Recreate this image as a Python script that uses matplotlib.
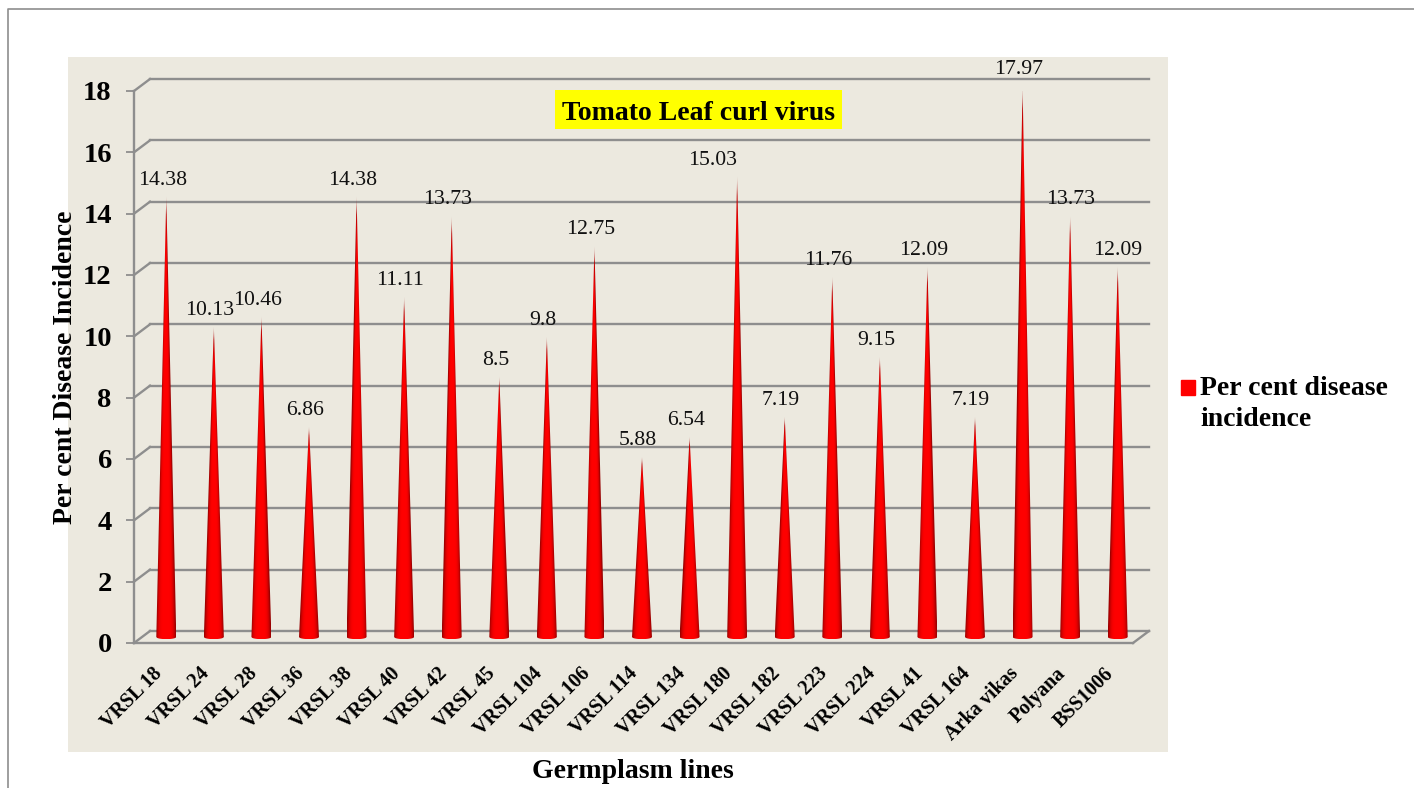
import numpy as np
import matplotlib
matplotlib.use("Agg")
import matplotlib.pyplot as plt
from matplotlib.lines import Line2D
from matplotlib.patches import Patch, Polygon, Rectangle
from matplotlib.transforms import Affine2D

lines = ["VRSL 18", "VRSL 24", "VRSL 28", "VRSL 36", "VRSL 38", "VRSL 40", "VRSL 42",
         "VRSL 45", "VRSL 104", "VRSL 106", "VRSL 114", "VRSL 134", "VRSL 180", "VRSL 182",
         "VRSL 223", "VRSL 224", "VRSL 41", "VRSL 164", "Arka vikas", "Polyana", "BSS1006"]
incidence = [14.38, 10.13, 10.46, 6.86, 14.38, 11.11, 13.73, 8.5, 9.8, 12.75, 5.88, 6.54,
             15.03, 7.19, 11.76, 9.15, 12.09, 7.19, 17.97, 13.73, 12.09]
y_ticks = [0, 2, 4, 6, 8, 10, 12, 14, 16, 18]

W, H = 1414, 788
GREY = "#8e8e8e"
plt.rcParams["font.family"] = ["Liberation Serif", "DejaVu Serif"]

fig = plt.figure(figsize=(W / 100, H / 100), dpi=100)

# slide frame and chart panel
fig.add_artist(Line2D([8 / W, 8 / W, 1], [0, 1 - 9 / H, 1 - 9 / H], color=GREY, lw=1.2))
fig.add_artist(Rectangle((68 / W, 1 - 752 / H), 1100 / W, 695 / H, color="#ece9df", lw=0, zorder=-1))

ax = fig.add_axes([134 / W, 1 - 643 / H, 999 / W, 552 / H], facecolor="none")
ax.set_xlim(-0.5, 20.5)
ax.set_ylim(0, 18)

# pseudo 3d planes, shifted in pixels
back = ax.transData + Affine2D().translate(16, 12)
mid = ax.transData + Affine2D().translate(8.5, 6)

for t in y_ticks:
    ax.plot([-0.5, -0.5 + 16 / 47.57], [t, t + 12 / 30.67], color=GREY, lw=1.7, clip_on=False)
    ax.plot([-0.5, 20.5], [t, t], color=GREY, lw=1.7, transform=back, clip_on=False)
ax.plot([20.5, 20.5 + 16 / 47.57], [0, 12 / 30.67], color=GREY, lw=1.7, clip_on=False)

# cone shading follows the width of the cone, dark edges and a pale tip
rows = np.linspace(0.002, 1, 400)[:, None]
cols = np.linspace(-1, 1, 120)[None, :]
img = np.zeros((400, 120, 4))
img[:, :, 0] = 1 - 0.42 * np.clip(np.abs(cols) / rows, 0, 1) ** 4
img[:, :, 3] = np.clip(rows * 20 + 0.1, 0, 1)
half = 0.21
sag = 0.07
arc = np.linspace(-1, 1, 30)
for i, v in enumerate(incidence):
    im = ax.imshow(img, extent=(i - half, i + half, -sag, v), origin="upper",
                   aspect="auto", transform=mid, zorder=3)
    outline = [(i + half * a, -sag * np.sqrt(1 - a * a)) for a in arc] + [(i, v)]
    im.set_clip_path(Polygon(outline, transform=mid))

ax.set_xlim(-0.5, 20.5)
ax.set_ylim(0, 18)

# value labels sit a bit left of the tip, a few are moved in the original
shift_x = {12: -25, 19: 0, 20: 0}
for i, v in enumerate(incidence):
    ax.annotate(f"{v:g}", (i, v), xycoords=mid, xytext=(shift_x.get(i, -4) * 0.72, 16 * 0.72),
                textcoords="offset points", ha="center", va="center", fontsize=15.7,
                color="#111111", zorder=5, annotation_clip=False)

ax.set_yticks(y_ticks)
ax.set_yticklabels([str(t) for t in y_ticks], fontsize=20.5, fontweight="bold")
ax.tick_params(axis="y", length=6, width=1.3, color=GREY, pad=10)
ax.set_xticks(range(len(lines)))
ax.set_xticklabels(lines, rotation=45, ha="right", va="top", rotation_mode="anchor",
                   fontsize=14.5, fontweight="bold")
ax.tick_params(axis="x", length=0, pad=15)
for lab in ax.get_xticklabels():
    lab.set_transform(lab.get_transform() + Affine2D().translate(-6, 0))
for s in ["top", "right"]:
    ax.spines[s].set_visible(False)
for s in ["left", "bottom"]:
    ax.spines[s].set_color(GREY)
    ax.spines[s].set_linewidth(1.7)

fig.text(633 / W, 1 - 771 / H, "Germplasm lines", ha="center", va="center",
         fontsize=20, fontweight="bold")
fig.text(66 / W, 1 - 367 / H, "Per cent Disease Incidence", ha="center", va="center",
         rotation=90, fontsize=20, fontweight="bold")
fig.add_artist(Rectangle((555 / W, 1 - 129 / H), 287 / W, 39 / H, color="#ffff00", lw=0))
fig.text(699 / W, 1 - 114 / H, "Tomato Leaf curl virus", ha="center", va="center",
         fontsize=20, fontweight="bold")

leg = fig.legend(handles=[Patch(color="#ff0000", label="Per cent disease\nincidence")],
                 loc="center left", bbox_to_anchor=(1162 / W, 1 - 404 / H), frameon=False,
                 prop=dict(size=20, weight="bold"), handlelength=0.5, handleheight=0.5,
                 handletextpad=0.17, labelspacing=0, borderpad=0.2)
leg.get_texts()[0].set_linespacing(1.35)
leg.legend_handles[0].set_y(13)

fig.savefig("out.png", dpi=100)
